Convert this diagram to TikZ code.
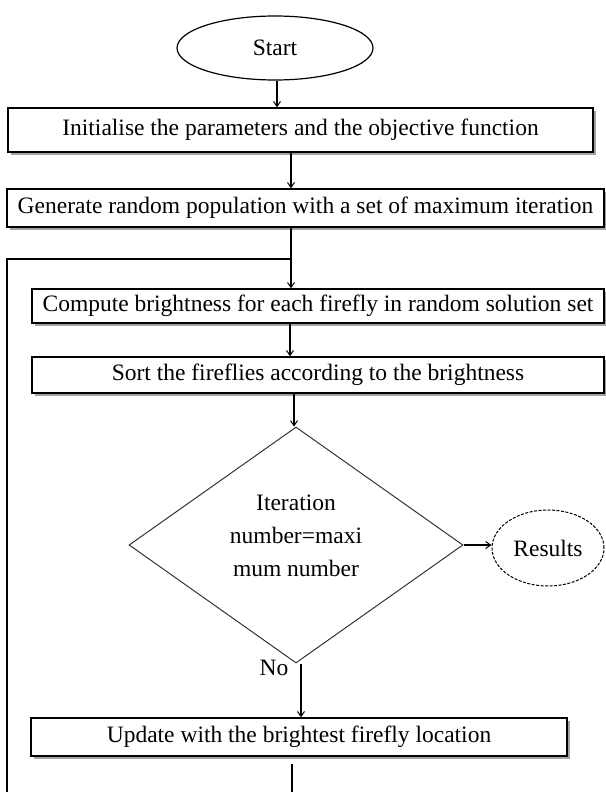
\documentclass[tikz,border=0pt]{standalone}
\usepackage{fontspec}
\setmainfont{Liberation Serif}
\usetikzlibrary{shapes.geometric,arrows.meta,shadows}
\begin{document}
\begin{tikzpicture}[x=1pt,y=-1pt,
  font=\fontsize{23.5}{26}\selectfont,
  conn/.style={line width=1.3pt,-{Straight Barb[length=5pt,width=7pt,line width=1pt]}},
  plain/.style={line width=1.3pt},
  stepbox/.style={draw,line width=1.4pt,fill=white,rectangle,inner sep=0pt,
    drop shadow={shadow xshift=2.5pt,shadow yshift=-3pt,fill=black!45,opacity=0.8}},
  terminal/.style={draw,line width=1.2pt,ellipse,inner sep=0pt},
  decision/.style={draw=black!80,line width=1pt,diamond,inner sep=0pt},
  dectxt/.style={align=center,inner sep=0pt,font=\fontsize{23.5}{33}\selectfont}]
\useasboundingbox (0,0) rectangle (605,792);

% terminals
\node[terminal,minimum width=196pt,minimum height=64pt] (start) at (275,48) {Start};

% process steps
\node[stepbox,minimum width=585pt,minimum height=44pt] (init) at (300.5,130)
  {Initialise the parameters and the objective function};
\node[stepbox,minimum width=597pt,minimum height=38pt] (gen) at (305.5,208)
  {Generate random population with a set of maximum iteration};
\node[stepbox,minimum width=572pt,minimum height=34pt] (comp) at (318,306)
  {Compute brightness for each firefly in random solution set};
\node[stepbox,minimum width=572pt,minimum height=36pt] (sort) at (318,375)
  {Sort the fireflies according to the brightness};

% decision
\node[decision,minimum width=334pt,minimum height=236pt] (dec) at (296,545) {};
\node[dectxt] (dectext) at (296,536) {Iteration\\number=maxi\\mum number};

\node[terminal,dashed,dash pattern=on 3pt off 1.5pt,line width=1pt,
  minimum width=112pt,minimum height=76pt] (res) at (548,548) {Results};

\node[stepbox,minimum width=536pt,minimum height=38pt] (upd) at (299,737)
  {Update with the brightest firefly location};

\node (no) at (274,668) {No};

% loop-back path
\coordinate (join) at (291,259);
\coordinate (lefttop) at (7,259);
\coordinate (leftbot) at (7,792);
\coordinate (updbot) at (292,792);

% connectors
\draw[conn] (start.south -| 277,0) -- (init.north -| 277,0);
\draw[conn] (init.south -| 291,0) -- (gen.north -| 291,0);
\draw[plain] (gen.south -| join) -- (join);
\draw[conn] (join) -- (comp.north -| join);
\draw[plain] (leftbot) -- (lefttop) -- (join);
\draw[conn] (comp.south -| 290,0) -- (sort.north -| 290,0);
\draw[conn] (sort.south -| 294,0) -- (dec.north -| 294,0);
\draw[conn] (dec.east) -- (res.west |- dec.east);
\draw[conn] (dec.south -| 301,0) -- (upd.north -| 301,0);
\draw[plain] ([yshift=-7pt]upd.south -| updbot) -- (updbot);
\end{tikzpicture}
\end{document}
